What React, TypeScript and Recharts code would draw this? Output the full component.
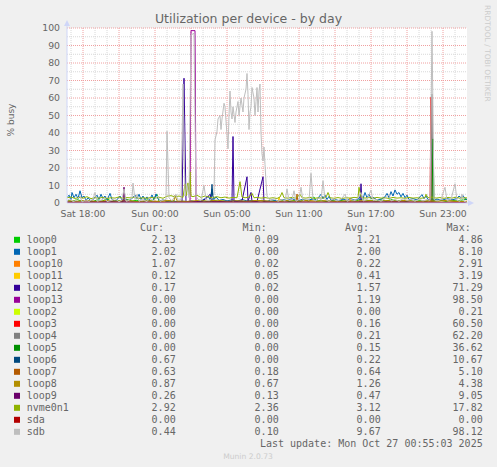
import React from 'react';
import { LineChart, Line, XAxis, YAxis, CartesianGrid } from 'recharts';

const FONT = '"DejaVu Sans", sans-serif';
const MONO = '"DejaVu Sans Mono", monospace';
const TXT = '#666666';

// x key: 5-minute sample index (0..400) starting Sat 16:40
const xTicks = [16, 88, 160, 232, 304, 376];
const xTickLabels = ['Sat 18:00', 'Sun 00:00', 'Sun 05:00', 'Sun 11:00', 'Sun 17:00', 'Sun 23:00'];
const yTicks = [0, 10, 20, 30, 40, 50, 60, 70, 80, 90, 100];
const yMinor = [5, 15, 25, 35, 45, 55, 65, 75, 85, 95];
const xMajor = [16, 52, 88, 124, 160, 196, 232, 268, 304, 340, 376];
const xMinor = [4, 28, 40, 64, 76, 100, 112, 136, 148, 172, 184, 208, 220, 244, 256, 280, 292, 316, 328, 352, 364, 388];

type P = [number, number];

const loop0: P[] = [[0,1.5],[5,0.8],[10,2],[15,1],[20,1.6],[25,0.6],[30,1.8],[35,1],[40,2.4],[45,0.8],[50,1.4],[55,0.9],[60,2],[65,1.1],[70,1.6],[75,0.5],[80,1.8],[85,1],[90,4.86],[92,1],[97,1.4],[102,0.5],[107,1.2],[112,0.3],[117,1],[122,0.2],[127,0.9],[132,0.4],[137,1.2],[142,0.6],[147,1.5],[152,0.8],[157,1.2],[162,0.4],[167,1.4],[172,0.5],[177,1],[182,0.3],[187,1.2],[192,0.09],[197,0.9],[202,0.5],[207,1.3],[212,0.7],[217,1.6],[222,0.8],[227,1.4],[232,0.6],[237,1.8],[242,1],[247,3.5],[249,1],[254,1.4],[259,0.8],[264,1.6],[269,1],[274,1.5],[279,0.8],[284,1.7],[289,1.1],[294,2.2],[299,1.2],[304,1.6],[309,0.9],[314,1.8],[319,1],[324,2],[329,1.2],[334,1.5],[339,0.8],[344,1.6],[349,1],[354,1.4],[359,0.9],[364,1.8],[369,1.1],[374,1.5],[379,0.9],[384,1.7],[389,1.2],[394,1.6],[400,2.13]];
const loop1: P[] = [[0,3],[2,4.5],[4,2],[5,6],[7,3],[9,5],[11,2.5],[13,7],[15,3],[17,4],[19,1.5],[21,3],[24,1.2],[27,2.5],[30,4.5],[32,2],[34,5],[36,2.5],[38,4],[40,1.5],[43,5.5],[45,2],[48,1],[51,2.5],[53,4],[55,1.5],[58,3],[61,1.2],[64,2],[68,4.5],[70,2.5],[72,5],[74,2],[76,4],[78,1.8],[80,3.5],[82,1.2],[85,4.6],[87,2],[89,5.2],[91,2.5],[93,1.2],[96,1.8],[100,0.8],[105,1.2],[110,0.6],[115,1],[120,0.8],[125,1.2],[130,0.5],[135,1.5],[138,2.5],[141,4],[143,2],[145,8.1],[147,2],[149,3.5],[152,1.5],[156,2],[160,1.2],[165,1.8],[170,1],[175,2],[180,1.2],[185,1.5],[190,0.8],[195,1.6],[200,1],[205,1.8],[210,1.2],[215,2],[220,1.5],[225,2.5],[230,1.2],[235,2],[240,1.5],[245,2.2],[250,1.5],[252,3.5],[254,5],[256,2.5],[258,4.5],[260,2],[262,3.8],[264,1.5],[268,2],[272,1.4],[276,2.2],[280,1.5],[284,2.4],[288,1.6],[292,2.5],[294,4.5],[296,2.5],[298,6],[300,3],[302,5],[304,2.5],[306,3.2],[310,1.8],[314,2.2],[318,3.5],[320,5.5],[322,3],[324,6.5],[326,4],[328,7.5],[330,5],[332,6],[334,3.5],[336,5.5],[338,3],[340,4.5],[342,2],[346,2.5],[350,1.8],[353,3.5],[355,4.8],[357,2.5],[359,4],[361,2],[365,1.5],[370,2.2],[375,1.6],[380,2.5],[385,1.8],[390,2.5],[392,4],[394,3],[396,4.2],[398,2.5],[400,2.02]];
const loop10: P[] = [[0,0.2],[50,0.1],[100,0.3],[150,0.1],[200,0.2],[250,0.1],[282,0.2],[283,2.91],[284,0.2],[300,0.3],[350,0.1],[390,0.2],[400,1.07]];
const loop11: P[] = [[0,0.4],[20,0.3],[40,0.6],[60,0.2],[80,0.5],[100,0.3],[120,0.6],[140,0.2],[160,0.5],[180,0.3],[200,0.6],[211,0.4],[212,3.19],[214,0.4],[230,0.3],[250,0.5],[270,0.2],[290,0.6],[310,0.3],[330,0.5],[350,0.2],[370,0.4],[390,0.3],[400,0.12]];
const loop12: P[] = [[0,0.5],[20,0.3],[40,0.8],[60,0.4],[80,0.5],[100,0.3],[115,0.5],[117,71.3],[119,0.5],[135,1],[140,3],[143,5],[145,1],[160,0.8],[165,1],[166,38],[167,1],[175,1.2],[180,15],[181,1],[184,6],[185,1],[190,0.8],[196,15],[197,0.6],[210,0.4],[230,0.5],[250,0.3],[270,0.4],[293,0.5],[294,11],[295,0.4],[320,0.3],[350,0.4],[380,0.2],[400,0.17]];
const loop13: P[] = [[0,0],[123,0],[124,98.5],[128,98.5],[129,0],[400,0]];
const loop2: P[] = [[0,0],[150,0],[151,0.21],[152,0],[400,0]];
const loop3: P[] = [[0,0],[363,0],[364,60.5],[365,0],[400,0]];
const loop4: P[] = [[0,0],[364,0],[365,62.2],[366,0],[400,0]];
const loop5: P[] = [[0,0],[365,0],[366,36.62],[367,0],[400,0]];
const loop6: P[] = [[0,0.1],[60,0.2],[120,0.1],[144,0.3],[145,10.67],[146,0.3],[200,0.2],[260,0.1],[320,0.3],[380,0.2],[395,0.8],[400,0.67]];
const loop7: P[] = [[0,0.6],[15,0.4],[30,0.8],[45,0.5],[60,0.7],[75,0.3],[90,0.8],[105,0.5],[120,0.6],[135,0.4],[150,0.7],[165,0.3],[180,0.8],[195,0.5],[210,0.7],[225,0.4],[229,0.5],[230,5.1],[231,0.5],[240,0.6],[255,0.5],[270,0.8],[285,0.4],[300,0.7],[315,0.4],[330,0.8],[345,0.5],[360,0.7],[375,0.4],[390,0.8],[400,0.63]];
const loop8: P[] = [[0,1.3],[10,1],[20,1.5],[30,0.9],[40,1.4],[50,1.1],[60,1.6],[70,0.8],[80,1.3],[90,1],[100,1.5],[107,1.2],[108,4.38],[110,1.2],[120,0.9],[130,1.4],[140,1.1],[150,1.6],[160,0.9],[170,1.3],[180,1],[190,1.5],[200,1.2],[210,0.8],[220,1.4],[230,1],[240,1.5],[250,1.1],[260,1.4],[270,0.9],[280,1.3],[290,1.1],[300,1.6],[310,1],[320,1.4],[330,1.2],[340,1.5],[350,0.9],[360,1.3],[370,1.1],[380,1.5],[390,1],[400,0.87]];
const loop9: P[] = [[0,0.4],[30,0.5],[56,0.5],[57,9.05],[58,0.5],[100,0.3],[140,0.6],[200,0.5],[260,0.4],[320,0.6],[360,0.4],[400,0.26]];
const nvme0n1: P[] = [[0,3.0],[4,3.4],[8,2.6],[12,3.2],[16,2.8],[20,3.6],[24,2.5],[28,3.1],[32,2.7],[36,3.3],[40,2.6],[44,3.0],[48,2.8],[52,3.5],[56,2.6],[60,3.1],[64,2.9],[68,3.4],[72,2.6],[76,3.0],[80,2.7],[84,3.2],[88,2.8],[92,3.3],[96,2.7],[100,3.9],[104,4.2],[108,3.5],[112,4.0],[116,3.2],[118,11],[119,4],[121,11.5],[122,5],[123,17.82],[124,4],[126,3.6],[130,4.4],[134,3.2],[138,4],[142,3.4],[146,3],[150,3.6],[154,3],[158,3.4],[162,2.8],[166,3.2],[170,3],[173,12.2],[175,3.4],[178,3],[182,3.4],[185,5.5],[187,3],[190,3.2],[194,2.8],[198,3.1],[202,2.7],[206,3],[210,2.6],[213,3.4],[215,6],[217,3],[221,2.8],[225,3.2],[229,2.7],[233,5],[235,3],[239,2.8],[243,3.2],[247,2.6],[251,3],[255,2.8],[259,3.3],[261,6],[263,3],[267,2.7],[271,3.1],[275,2.6],[279,3],[283,2.8],[287,3.2],[291,3],[292,9],[294,3.3],[298,2.8],[302,3.1],[306,2.7],[310,3.2],[314,2.8],[318,3],[322,2.6],[326,3.2],[330,2.8],[334,3],[338,2.7],[342,3.2],[346,2.8],[350,3],[354,2.7],[358,3.1],[359,5],[361,3],[365,3.4],[369,2.8],[373,3.1],[377,2.7],[381,3.2],[385,2.8],[389,3.3],[393,2.7],[397,3],[400,2.92]];
const sda: P[] = [[0,0],[400,0]];
const sdb: P[] = [[0,1.2],[3,2.5],[6,0.8],[9,1.5],[13,4],[15,0.6],[19,1.8],[22,0.9],[26,2.2],[28,6],[30,1],[34,1.6],[38,3],[40,0.8],[44,1.4],[48,2.5],[52,0.7],[55,1.8],[57,8],[59,1],[62,1.5],[65,3],[66,11.4],[68,2],[70,5],[72,1],[76,2],[80,0.8],[83,3],[86,1.2],[91,4],[93,1],[96,1.6],[99,2],[100,41],[102,3],[105,1.2],[109,5],[111,1.5],[114,2],[116,68],[118,4],[120,10],[122,3],[124,96],[127,97],[129,4],[131,2],[134,1.5],[137,10],[139,2],[142,1.4],[145,2.5],[147,5],[148,36],[150,41],[151,48],[153,50],[154,42],[155,48],[157,57],[158,55],[159,47],[161,31],[162,50],[163,64],[164,52],[165,48],[166,55],[168,46],[169,52],[171,58],[172,50],[174,60],[176,52],[177,60],[179,65],[180,74],[181,62],[182,42],[183,52],[184,55],[185,66],[187,60],[188,50],[189,58],[190,66],[191,52],[192,64],[193,68],[194,40],[195,28],[196,24],[197,32],[198,22],[199,12],[200,4],[203,1.5],[207,2.5],[211,1],[215,2],[218,1.2],[220,8],[222,1.5],[225,2],[227,7],[229,1],[232,2],[234,9],[236,1.4],[240,2.5],[242,1.5],[244,17],[246,2],[249,1.2],[252,3],[254,1.5],[256,12.7],[258,2],[262,1],[266,2.5],[270,1.2],[274,2],[278,5],[280,1],[284,2],[288,1.4],[291,3],[294,6],[296,1.2],[300,2],[304,7.4],[306,1.5],[310,2],[314,1],[318,2.5],[322,5],[324,1.2],[328,2],[332,1],[336,2.4],[340,1.5],[344,2],[348,1],[352,2.2],[356,1.2],[360,2],[363,1.5],[365,98.12],[367,2],[370,1.2],[374,2],[378,9],[380,1.5],[384,2],[388,11],[390,1.5],[393,1],[395,5],[397,1],[400,0.44]];

const names = ['loop0','loop1','loop10','loop11','loop12','loop13','loop2','loop3','loop4','loop5','loop6','loop7','loop8','loop9','nvme0n1','sda','sdb'];
const colors = ['#00CC00','#0066B3','#FF8000','#FFCC00','#330099','#990099','#CCFF00','#FF0000','#808080','#008F00','#00487D','#B35A00','#B38F00','#6B006B','#8FB300','#B30000','#BEBEBE'];
const seriesData: P[][] = [loop0, loop1, loop10, loop11, loop12, loop13, loop2, loop3, loop4, loop5, loop6, loop7, loop8, loop9, nvme0n1, sda, sdb];
const curVals = ['2.13','2.02','1.07','0.12','0.17','0.00','0.00','0.00','0.00','0.00','0.67','0.63','0.87','0.26','2.92','0.00','0.44'];
const minVals = ['0.09','0.00','0.02','0.05','0.02','0.00','0.00','0.00','0.00','0.00','0.00','0.18','0.67','0.13','2.36','0.00','0.10'];
const avgVals = ['1.21','2.00','0.22','0.41','1.57','1.19','0.00','0.16','0.21','0.15','0.22','0.64','1.26','0.47','3.12','0.00','9.67'];
const maxVals = ['4.86','8.10','2.91','3.19','71.29','98.50','0.21','60.50','62.20','36.62','10.67','5.10','4.38','9.05','17.82','0.00','98.12'];

const X_DOMAIN = 400;
const Y_DOMAIN = 100;

const toPts = (a: P[]) => a.map(([s, v]) => ({ s, v }));

const vGen = (vals: number[]) => (props: any) => {
  const { offset } = props;
  return vals.map((v) => offset.left + (v / X_DOMAIN) * offset.width);
};
const hGen = (vals: number[]) => (props: any) => {
  const { offset } = props;
  return vals.map((v) => offset.top + offset.height - (v / Y_DOMAIN) * offset.height);
};

export default function App() {
  return (
    <div style={{ position: 'absolute', left: 0, top: 0, width: 497, height: 467, background: '#F0F0F0', overflow: 'hidden' }}>
      <LineChart width={497} height={467} margin={{ top: 28, right: 30, bottom: 244, left: 27 }}>
        <CartesianGrid fill="#FFFFFF" stroke="#D8D8D8" strokeDasharray="1 1"
          verticalCoordinatesGenerator={vGen(xMinor)} horizontalCoordinatesGenerator={hGen(yMinor)} />
        <CartesianGrid stroke="#F0A0A0" strokeDasharray="1 1"
          verticalCoordinatesGenerator={vGen(xMajor)} horizontalCoordinatesGenerator={hGen(yTicks.slice(1))} />
        <XAxis type="number" dataKey="s" domain={[0, X_DOMAIN]} ticks={xTicks} interval={0} allowDataOverflow
          tickFormatter={(v: number) => xTickLabels[xTicks.indexOf(v)] ?? ''}
          tickSize={0} tickMargin={7} height={20} axisLine={{ stroke: '#CFD6F8' }} tickLine={false}
          tick={{ fontSize: 9.3, fill: TXT, fontFamily: FONT }} />
        <YAxis type="number" domain={[0, Y_DOMAIN]} ticks={yTicks} interval={0} allowDataOverflow
          tickSize={0} tickMargin={7} width={40} axisLine={{ stroke: '#CFD6F8' }} tickLine={false}
          tick={{ fontSize: 9.3, fill: TXT, fontFamily: FONT }} />
        {seriesData.map((d, i) => (
          <Line key={names[i]} data={toPts(d)} dataKey="v" name={names[i]} type="linear" stroke={colors[i]}
            strokeWidth={1} dot={false} activeDot={false} isAnimationActive={false} />
        ))}
      </LineChart>
      <svg width={497} height={467} style={{ position: 'absolute', left: 0, top: 0, pointerEvents: 'none' }}>
        <text x={248.5} y={23} textAnchor="middle" fontFamily={FONT} fontSize={12.5} fill={TXT}>Utilization per device - by day</text>
        <text transform="translate(485,5) rotate(90)" fontFamily={FONT} fontSize={7.5} fill="#CCCCCC">RRDTOOL / TOBI OETIKER</text>
        <text transform="translate(13.5,120) rotate(-90)" textAnchor="middle" fontFamily={FONT} fontSize={9} fill={TXT}>% busy</text>
        <line x1={67} y1={28} x2={67} y2={22} stroke="#CFD6F8" />
        <polygon points="64,26 70,26 67,20" fill="#CFD6F8" />
        <line x1={467} y1={203} x2={469} y2={203} stroke="#CFD6F8" />
        <polygon points="468,200 468,206 474,203" fill="#CFD6F8" />
        <g fontFamily={MONO} fontSize={10} fill={TXT}>
          <text x={164} y={231} textAnchor="end">Cur:</text>
          <text x={266.7} y={231} textAnchor="end">Min:</text>
          <text x={369} y={231} textAnchor="end">Avg:</text>
          <text x={470.7} y={231} textAnchor="end">Max:</text>
          {names.map((n, i) => {
            const by = 243.3 + 12 * i;
            return (
              <g key={n}>
                <rect x={14} y={by - 6.5} width={6} height={6} fill={colors[i]} />
                <text x={26.7} y={by}>{n}</text>
                <text x={175.7} y={by} textAnchor="end">{curVals[i]}</text>
                <text x={278.7} y={by} textAnchor="end">{minVals[i]}</text>
                <text x={380.7} y={by} textAnchor="end">{avgVals[i]}</text>
                <text x={482.7} y={by} textAnchor="end">{maxVals[i]}</text>
              </g>
            );
          })}
          <text x={482.7} y={447} textAnchor="end">Last update: Mon Oct 27 00:55:03 2025</text>
        </g>
        <text x={248} y={459} textAnchor="middle" fontFamily={FONT} fontSize={7.6} fill="#CCCCCC">Munin 2.0.73</text>
      </svg>
    </div>
  );
}
